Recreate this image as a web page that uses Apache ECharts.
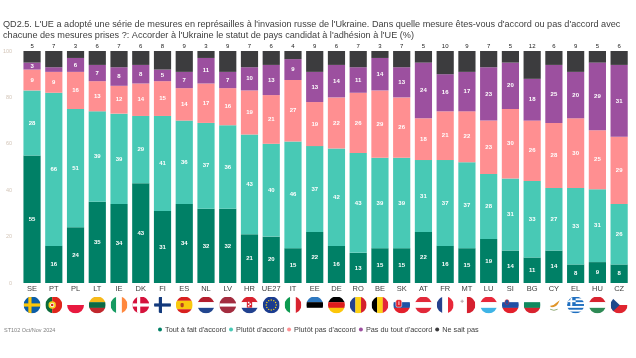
<!DOCTYPE html>
<html>
<head>
<meta charset="utf-8">
<style>
  html, body { margin: 0; padding: 0; background: #fff; }
  #chart { width: 636px; height: 358px; }
</style>
<script src="https://cdn.jsdelivr.net/npm/echarts@6/dist/echarts.min.js"></script>
</head>
<body>
<div id="chart"></div>
<script>
var titleText = "QD2.5. L'UE a adopté une série de mesures en représailles à l'invasion russe de l'Ukraine. Dans quelle mesure êtes-vous d'accord ou pas d'accord avec\nchacune des mesures prises ?: Accorder à l'Ukraine le statut de pays candidat à l'adhésion à l'UE (%)";
var sourceText = "ST102 Oct/Nov 2024";

var categories = ["SE","PT","PL","LT","IE","DK","FI","ES","NL","LV","HR","UE27","IT","EE","DE","RO","BE","SK","AT","FR","MT","LU","SI","BG","CY","EL","HU","CZ"];
var seriesNames = ["Tout à fait d'accord","Plutôt d'accord","Plutôt pas d'accord","Pas du tout d'accord","Ne sait pas"];
var seriesColors = ["#008066","#48c9b5","#ff8f91","#9c509f","#3c3c3e"];

// les pourcentages arrondis sont affichés, quelques valeurs sont lues au dixième pour que la pile fasse 100
var toutAFait = [55,16,24,35,34,43,31,34,32,32,21,20,15,22,16,13,15,15,22,16,15,19,14,11,14,8,9,8];
var plutot = [28,66,51,39,39,29,41,36,37,36,43,40,46,37,42,43,39,39,31,37,37,28,31,33,27,33,31.4,26];
var plutotPas = [9,9,16,13,12,14,15,14,17,16,19,21,26.5,19,22,26,29,26,18,21,22,23,30,26,28,30,25.4,29];
var pasDuTout = [3,2,6,7,8,8,5,7,11,7,10,13,9,13,14,11,14,13,24,16,17,23,20,18,25,20,29.2,31];
var neSaitPas = [5,7,3,6,7,6,8,9,3,9,7,6,3.5,9,6,7,3,7,5,10,9,7,5,12,6,9,5,6];
var seriesValues = [toutAFait, plutot, plutotPas, pasDuTout, neSaitPas];

var yTicks = [0,20,40,60,80,100];

// drapeaux ronds en svg
function hStripes(c) {
  var s = "", h = 32 / c.length;
  c.forEach(function(col, i) { s += '<rect x="0" y="' + i * h + '" width="32" height="' + (h + 0.2) + '" fill="' + col + '"/>'; });
  return s;
}
function vStripes(c) {
  var s = "", w = 32 / c.length;
  c.forEach(function(col, i) { s += '<rect x="' + i * w + '" y="0" width="' + (w + 0.2) + '" height="32" fill="' + col + '"/>'; });
  return s;
}
function nordic(bg, cross) {
  return '<rect width="32" height="32" fill="' + bg + '"/><rect x="9" y="0" width="6" height="32" fill="' + cross + '"/><rect x="0" y="13" width="32" height="6" fill="' + cross + '"/>';
}
function euStars() {
  var s = '<rect width="32" height="32" fill="#1b3c8f"/>';
  for (var i = 0; i < 12; i++) {
    var a = i * Math.PI / 6;
    s += '<circle cx="' + (16 + 9.5 * Math.cos(a)) + '" cy="' + (16 + 9.5 * Math.sin(a)) + '" r="1.4" fill="#f2d21b"/>';
  }
  return s;
}
function greek() {
  var s = '<rect width="32" height="32" fill="#fff"/>';
  for (var i = 0; i < 5; i++) s += '<rect x="0" y="' + i * 7.1 + '" width="32" height="3.55" fill="#1f6fc0"/>';
  s += '<rect width="16" height="17.7" fill="#1f6fc0"/><rect x="6" width="3.6" height="17.7" fill="#fff"/><rect y="7.1" width="16" height="3.55" fill="#fff"/>';
  return s;
}
var flags = {
  SE: nordic("#0b5ea8", "#fcc60a"),
  PT: '<rect width="13" height="32" fill="#0a6b3a"/><rect x="13" width="19" height="32" fill="#e0251b"/><circle cx="13" cy="16" r="7" fill="#f4d21e"/><circle cx="13" cy="16" r="4" fill="#fff"/><circle cx="13" cy="16" r="2.5" fill="#d8261c"/>',
  PL: hStripes(["#fff", "#e8193f"]),
  LT: hStripes(["#f6b91a", "#0a6a44", "#c1272d"]),
  IE: vStripes(["#169b62", "#fff", "#ff883e"]),
  DK: nordic("#d5123c", "#fff"),
  FI: nordic("#fff", "#12397c"),
  ES: hStripes(["#d8201f", "#f9c80e", "#f9c80e", "#d8201f"]) + '<rect x="9" y="12" width="6" height="8" rx="2" fill="#b5401f"/>',
  NL: hStripes(["#b41f2e", "#fff", "#22468f"]),
  LV: '<rect width="32" height="32" fill="#a32c3f"/><rect y="13" width="32" height="6" fill="#fff"/>',
  HR: hStripes(["#d8232f", "#fff", "#21418f"]) + '<rect x="11" y="8" width="10" height="13" fill="#d8232f"/><rect x="13" y="10" width="3" height="3" fill="#fff"/><rect x="16" y="13" width="3" height="3" fill="#fff"/><rect x="13" y="16" width="3" height="3" fill="#fff"/>',
  UE27: euStars(),
  IT: vStripes(["#0d9a50", "#fff", "#d8232f"]),
  EE: hStripes(["#2f79c0", "#000", "#fff"]),
  DE: hStripes(["#000", "#dd1c1c", "#fcc60a"]),
  RO: vStripes(["#23408f", "#fcd116", "#d4202c"]),
  BE: vStripes(["#000", "#fcd116", "#e3273a"]),
  SK: hStripes(["#fff", "#1f55a6", "#e3202c"]) + '<rect x="5" y="6" width="11" height="14" rx="3" fill="#e3202c" stroke="#fff"/><rect x="10" y="9" width="1.6" height="7" fill="#fff"/>',
  AT: hStripes(["#e2293a", "#fff", "#e2293a"]),
  FR: vStripes(["#25418f", "#fff", "#e8283a"]),
  MT: '<rect width="16" height="32" fill="#fff"/><rect x="16" width="16" height="32" fill="#d6202f"/><rect x="6" y="6" width="2" height="6" fill="#b9a9ad"/><rect x="4" y="8" width="6" height="2" fill="#b9a9ad"/>',
  LU: hStripes(["#e8283a", "#fff", "#3fb4e6"]),
  SI: hStripes(["#fff", "#1f50a6", "#e3202c"]) + '<rect x="6" y="6" width="7" height="9" rx="3" fill="#1f50a6" stroke="#e3202c"/>',
  BG: hStripes(["#fff", "#0f8a5f", "#d8232f"]),
  CY: '<path d="M8 18 Q16 17 20 12 L27 7 L24 13 Q20 20 12 20 Z" fill="#e0952a"/><path d="M9 24 Q16 28 23 24" stroke="#7c9a5a" stroke-width="1.5" fill="none"/>',
  EL: greek(),
  HU: hStripes(["#d8232f", "#fff", "#2e8a55"]),
  CZ: hStripes(["#fff", "#e0252f"]) + '<path d="M0 0 L17 16 L0 32 Z" fill="#1f4a8c"/>'
};
function flagUrl(code) {
  var svg = '<svg xmlns="http://www.w3.org/2000/svg" width="68" height="68" viewBox="0 0 32 32"><defs><clipPath id="c"><circle cx="16" cy="16" r="16"/></clipPath></defs><g clip-path="url(#c)">' + flags[code] + '</g></svg>';
  return "data:image/svg+xml;charset=utf-8," + encodeURIComponent(svg);
}

var flagRich = {};
categories.forEach(function(c) {
  flagRich[c] = { width: 17, height: 17, backgroundColor: { image: flagUrl(c) } };
});

var chart = echarts.init(document.getElementById("chart"), null, { renderer: "canvas" });

var series = seriesNames.map(function(name, i) {
  var isLast = i === seriesNames.length - 1;
  return {
    name: name,
    type: "bar",
    stack: "total",
    barWidth: 17.2,
    data: seriesValues[i],
    itemStyle: { color: seriesColors[i] },
    label: {
      show: true,
      position: isLast ? "top" : "inside",
      distance: 2,
      fontFamily: "Liberation Sans",
      fontSize: 6,
      fontWeight: isLast ? "normal" : "bold",
      color: isLast ? "#222" : "#fff",
      formatter: function(p) {
        if (!isLast && p.value < 3) return "";
        return Math.round(p.value);
      }
    }
  };
});

var option = {
  animation: false,
  backgroundColor: "#fff",
  title: [
    {
      text: titleText,
      left: 3,
      top: 19,
      padding: 0,
      textStyle: { fontFamily: "Liberation Sans", fontSize: 9.15, fontWeight: "normal", color: "#404040", lineHeight: 10.8 }
    },
    {
      text: sourceText,
      left: 4,
      top: 327,
      padding: 0,
      textStyle: { fontFamily: "Liberation Sans", fontSize: 5.5, fontWeight: "normal", color: "#7f7f7f" }
    }
  ],
  legend: {
    left: 158,
    top: 326,
    icon: "circle",
    itemWidth: 4,
    itemHeight: 4,
    itemGap: 3,
    padding: 0,
    data: seriesNames,
    textStyle: { fontFamily: "Liberation Sans", fontSize: 7.3, color: "#404040", padding: [0, 0, 0, -2] }
  },
  grid: { left: 20.8, right: 6, top: 51, bottom: 75 },
  xAxis: [
    {
      type: "category",
      data: categories,
      axisLine: { show: false },
      axisTick: { show: false },
      axisLabel: { interval: 0, margin: 2, fontFamily: "Liberation Sans", fontSize: 7.5, color: "#404040" }
    },
    {
      type: "category",
      position: "bottom",
      offset: 13.5,
      data: categories,
      axisLine: { show: false },
      axisTick: { show: false },
      axisLabel: {
        interval: 0,
        margin: 0,
        formatter: function(v) { return "{" + v + "|}"; },
        rich: flagRich
      }
    }
  ],
  yAxis: {
    type: "value",
    min: yTicks[0],
    max: yTicks[yTicks.length - 1],
    interval: 20,
    axisLine: { show: false },
    axisTick: { show: false },
    splitLine: { show: false },
    axisLabel: { margin: 9, fontFamily: "Liberation Sans", fontSize: 5.5, color: "#d3c5b8" }
  },
  series: series
};
chart.setOption(option);
</script>
</body>
</html>
